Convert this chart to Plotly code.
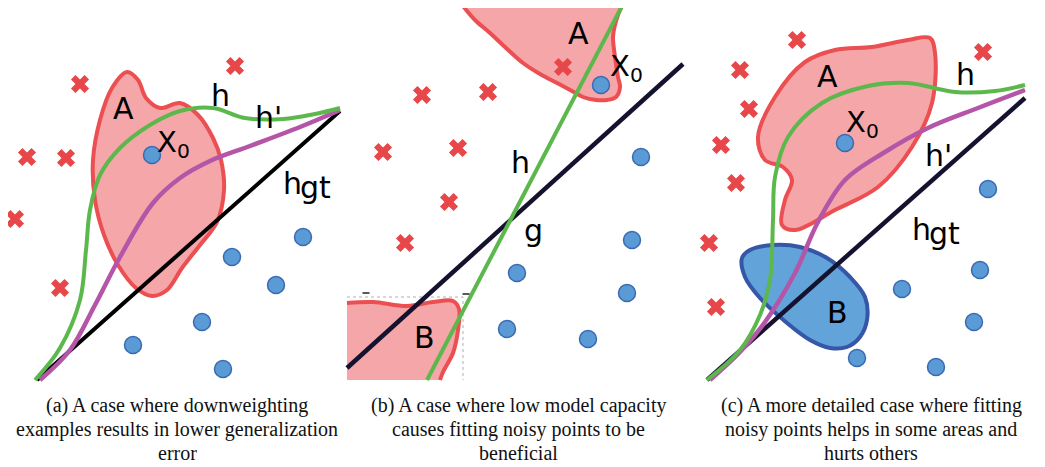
import plotly.graph_objects as go

# ---------------- data (image-pixel coordinates of the illustration) ----------------
# Panel (a)
a_neg_x = [80, 235, 27, 66, 15, 60]
a_neg_y = [84, 66, 157, 158, 219, 288]
a_pos_x = [152, 303, 232, 276, 202, 133, 223]
a_pos_y = [155, 237, 257, 285, 322, 345, 369]
a_blobA_x = [127, 112, 100, 93, 95, 104, 118, 136, 152, 167, 182, 200, 217, 224, 221, 213, 198, 180, 160, 146, 138, 127]
a_blobA_y = [72, 88, 120, 160, 200, 235, 265, 288, 296, 290, 268, 245, 222, 190, 160, 138, 115, 103, 108, 98, 80, 72]
a_hgt_x = [37, 340]
a_hgt_y = [380, 111]
a_h_x = [35, 60, 80, 86, 90, 100, 120, 150, 180, 213, 245, 283, 315, 340]
a_h_y = [380, 348, 300, 250, 210, 175, 148, 125, 111, 108, 118, 119, 114, 108]
a_hp_x = [40, 70, 95, 120, 153, 180, 210, 250, 300, 340]
a_hp_y = [380, 350, 305, 257, 203, 178, 161, 146, 127, 110]

# Panel (b)
b_neg_x = [563, 422, 488, 383, 458, 449, 405]
b_neg_y = [67, 95, 92, 152, 148, 202, 243]
b_pos_x = [601, 641, 632, 517, 627, 507, 588]
b_pos_y = [85, 157, 240, 273, 293, 329, 339]
b_blobA_x = [463, 475, 490, 505, 523, 540, 557, 572, 583, 596, 607, 616, 620, 618, 615, 613, 615, 618, 622]
b_blobA_y = [6, 20, 33, 47, 63, 74, 83, 91, 97, 100, 100, 97, 87, 77, 57, 37, 25, 15, 6]
b_blobB_x = [347, 373, 407, 433, 453, 459, 458, 453, 443, 440]
b_blobB_y = [303, 302, 306, 302, 301, 309, 330, 353, 372, 380]
b_g_x = [347, 683]
b_g_y = [368, 64]
b_h_x = [427, 622]
b_h_y = [380, 6]
b_box_x = [347, 463, 463]
b_box_y = [297, 297, 380]

# Panel (c)
c_neg_x = [797, 983, 740, 749, 721, 736, 709, 716]
c_neg_y = [40, 52, 70, 109, 145, 183, 243, 307]
c_pos_x = [845, 988, 980, 902, 974, 857, 936]
c_pos_y = [143, 189, 270, 289, 322, 358, 367]
c_blobA_x = [758, 775, 805, 835, 872, 908, 930, 935, 932, 912, 878, 835, 795, 782, 785, 792, 783, 765, 758]
c_blobA_y = [137, 97, 62, 50, 47, 40, 38, 53, 103, 147, 187, 210, 230, 225, 200, 180, 167, 160, 137]
c_blobB_x = [742, 750, 773, 800, 827, 850, 865, 867, 860, 847, 830, 810, 787, 760, 745, 742]
c_blobB_y = [258, 250, 245, 247, 258, 277, 297, 320, 337, 347, 348, 340, 323, 298, 277, 258]
c_hgt_x = [707, 1025]
c_hgt_y = [380, 98]
c_h_x = [707, 740, 760, 770, 773, 775, 788, 822, 868, 908, 955, 995, 1025]
c_h_y = [380, 350, 315, 280, 220, 177, 137, 103, 86, 83, 92, 91, 85]
c_hp_x = [710, 740, 765, 795, 818, 845, 885, 928, 978, 1025]
c_hp_y = [380, 352, 322, 273, 222, 180, 152, 128, 108, 90]

# labels: text, x (centre), y (centre)
labels = [
    ("A", 123, 108), ("h", 220, 95), ("h'", 268, 117),
    ("A", 578, 33), ("h", 520, 162), ("g", 533, 230), ("B", 424, 337),
    ("A", 827, 76), ("h", 965, 74), ("h'", 938, 155), ("B", 837, 312),
]
hgt_labels = [(303, 183), (932, 229)]   # junction between "h" and "gt"
x0_labels = [(173, 144), (626, 68), (862, 124)]
captions = [
    (177, ["(a) A case where downweighting", "examples results in lower generalization", "error"]),
    (518, ["(b) A case where low model capacity", "causes fitting noisy points to be", "beneficial"]),
    (871, ["(c) A more detailed case where fitting", "noisy points helps in some areas and", "hurts others"]),
]

# ---------------- styles ----------------
PINK = "#f5a6a9"
RED = "#ec4f51"
XRED = "#e8474a"
BLUE_F = "#5b9bd5"
BLUE_L = "#3b6ab3"
GREEN = "#5cb84c"
PURPLE = "#b455a8"
NAVY = "#14122e"
LBL = 30
OFF = 8  # browser body margin compensation

fig = go.Figure()

def blob(x, y, fill, line, lw=4):
    fig.add_trace(go.Scatter(x=x, y=y, mode="lines", fill="toself", fillcolor=fill,
                             line=dict(color=line, width=lw, shape="spline", smoothing=1.0),
                             hoverinfo="skip", showlegend=False))

def curve(x, y, color, lw=4, spline=True):
    fig.add_trace(go.Scatter(x=x, y=y, mode="lines",
                             line=dict(color=color, width=lw, shape="spline" if spline else "linear",
                                       smoothing=1.0),
                             hoverinfo="skip", showlegend=False))

def flatfill(x, y, fill):
    fig.add_trace(go.Scatter(x=x, y=y, mode="lines", fill="toself", fillcolor=fill,
                             line=dict(width=0), hoverinfo="skip", showlegend=False))

def negs(x, y):
    fig.add_trace(go.Scatter(x=x, y=y, mode="markers",
                             marker=dict(symbol="x", size=16, color=XRED, line=dict(width=0)),
                             hoverinfo="skip", showlegend=False))

def poss(x, y):
    fig.add_trace(go.Scatter(x=x, y=y, mode="markers",
                             marker=dict(symbol="circle", size=17, color=BLUE_F,
                                         line=dict(color=BLUE_L, width=1.5)),
                             hoverinfo="skip", showlegend=False))

# Panel (a)
blob(a_blobA_x, a_blobA_y, PINK, RED)
negs(a_neg_x, a_neg_y)
poss(a_pos_x, a_pos_y)
curve(a_hgt_x, a_hgt_y, "#000000", 4, spline=False)
curve(a_hp_x, a_hp_y, PURPLE, 4.5)
curve(a_h_x, a_h_y, GREEN, 4)

# Panel (b)
fig.add_trace(go.Scatter(x=b_box_x, y=b_box_y, mode="lines",
                         line=dict(color="#b0b0b0", width=1, dash="dot"),
                         hoverinfo="skip", showlegend=False))
flatfill([347] + b_blobB_x + [347], [380] + b_blobB_y + [380], PINK)
curve(b_blobB_x, b_blobB_y, RED, 4)
flatfill(b_blobA_x + [b_blobA_x[0]], b_blobA_y + [b_blobA_y[0]], PINK)
curve(b_blobA_x, b_blobA_y, RED, 4)
negs(b_neg_x, b_neg_y)
poss(b_pos_x, b_pos_y)
curve(b_g_x, b_g_y, NAVY, 4.5, spline=False)
curve(b_h_x, b_h_y, GREEN, 4, spline=False)
fig.add_trace(go.Scatter(x=[366, 466], y=[293, 294], mode="markers",
                         marker=dict(symbol="line-ew", size=5, line=dict(color="#222", width=1.5)),
                         hoverinfo="skip", showlegend=False))

# Panel (c)
blob(c_blobA_x, c_blobA_y, PINK, RED)
blob(c_blobB_x, c_blobB_y, "#62a3da", "#3656a8", 4)
negs(c_neg_x, c_neg_y)
poss(c_pos_x, c_pos_y)
curve(c_hgt_x, c_hgt_y, NAVY, 4.5, spline=False)
curve(c_hp_x, c_hp_y, PURPLE, 4.5)
curve(c_h_x, c_h_y, GREEN, 4)

annotations = []
lab_font = dict(family="DejaVu Sans", size=LBL, color="#000")
for t, x, y in labels:
    annotations.append(dict(text=t, x=x, y=y, xref="x", yref="y", showarrow=False, font=lab_font))
for x, y in hgt_labels:
    annotations.append(dict(text="h", x=x, y=y, xref="x", yref="y", xanchor="right",
                            showarrow=False, font=lab_font, borderpad=0))
    annotations.append(dict(text="gt", x=x - 4, y=y + 4, xref="x", yref="y", xanchor="left",
                            showarrow=False, font=lab_font, borderpad=0))
for x, y in x0_labels:
    annotations.append(dict(text="X<sub>0</sub>", x=x, y=y, xref="x", yref="y", showarrow=False,
                            font=dict(family="DejaVu Sans", size=29, color="#000")))
for cx, lines in captions:
    for i, ln in enumerate(lines):
        annotations.append(dict(text=ln, x=cx, y=405 + i * 24, xref="x", yref="y", showarrow=False,
                                font=dict(family="Liberation Serif", size=20, color="#111")))

fig.update_layout(
    width=1045 - OFF, height=467 - OFF,
    margin=dict(l=0, r=0, t=0, b=0),
    paper_bgcolor="white", plot_bgcolor="white",
    xaxis=dict(range=[OFF, 1045], visible=False, fixedrange=True),
    yaxis=dict(range=[467, OFF], visible=False, fixedrange=True),
    annotations=annotations,
    showlegend=False,
)
fig.write_html("out.html")
